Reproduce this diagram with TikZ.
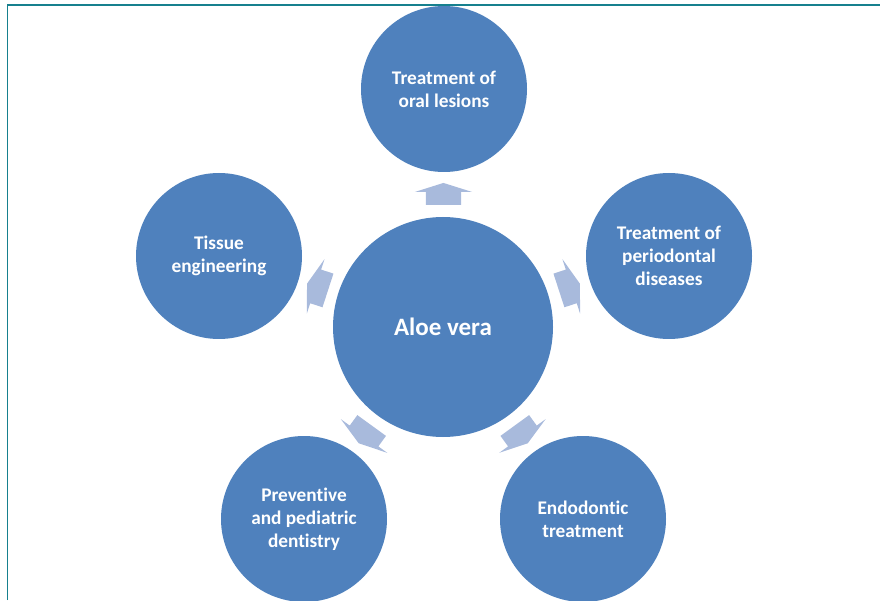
\documentclass[tikz,border=0pt]{standalone}
\usepackage{fontspec}
\setmainfont{Carlito}[Ligatures=NoCommon]
\usetikzlibrary{shapes.arrows, calc}
\definecolor{circblue}{RGB}{79,129,189}
\definecolor{arrowblue}{RGB}{168,186,220}
\definecolor{frameteal}{RGB}{22,128,142}
\tikzset{
  topic/.style={circle, fill=circblue, text=white, minimum size=166pt, inner sep=0pt,
    align=center, font=\bfseries\fontsize{19.3}{23}\selectfont},
  hub/.style={circle, fill=circblue, text=white, minimum size=220pt, inner sep=0pt,
    font=\bfseries\fontsize{25}{30}\selectfont},
  blockarrow/.style={single arrow, fill=arrowblue, inner sep=0pt,
    minimum height=22pt, single arrow head extend=11pt, single arrow tip angle=145}
}
\begin{document}
\begin{tikzpicture}[x=1pt, y=1pt]
    \useasboundingbox (0,0) rectangle (880,600);

    % 枠線
    \draw[frameteal, line width=1.8pt] (7.5,0) -- (7.5,595) -- (880,595);

    % 中心
    \node[hub] (aloe) at (443,273) {Aloe vera};

    % 周りの円
    \node[topic] (lesions) at (444,511) {Treatment of\\oral lesions};
    \node[topic] (perio) at (669,344) {Treatment of\\periodontal\\diseases};
    \node[topic] (endo) at (583,81) {Endodontic\\treatment};
    \node[topic] (pedia) at (304,81) {Preventive\\and pediatric\\dentistry};
    \node[topic] (tissue) at (219,344) {Tissue\\engineering};

    % 矢印
    \node[blockarrow, rotate=90] (a1) at ($(aloe.90)!0.45!(lesions.270)$) {\rule{0pt}{35pt}};
    \node[blockarrow, rotate=18] (a2) at ($(aloe.18)!0.45!(perio.198)$) {\rule{0pt}{35pt}};
    \node[blockarrow, rotate=-54] (a3) at ($(aloe.-54)!0.45!(endo.126)$) {\rule{0pt}{35pt}};
    \node[blockarrow, rotate=-126] (a4) at ($(aloe.-126)!0.45!(pedia.54)$) {\rule{0pt}{35pt}};
    \node[blockarrow, rotate=162] (a5) at ($(aloe.162)!0.45!(tissue.-18)$) {\rule{0pt}{35pt}};
\end{tikzpicture}
\end{document}
